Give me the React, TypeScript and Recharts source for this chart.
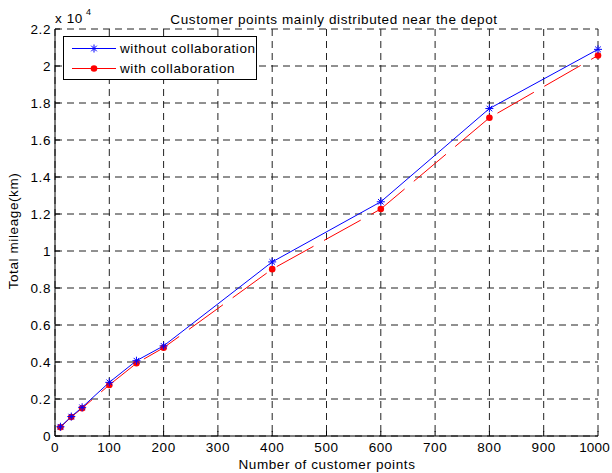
import React from 'react'
import { LineChart, Line, XAxis, YAxis, CartesianGrid } from 'recharts'

// number of customer points
const customerPoints = [10, 30, 50, 100, 150, 200, 400, 600, 800, 1000]
// total mileage, in units of 10^4 km
const withoutCollab = [0.05, 0.105, 0.155, 0.29, 0.407, 0.487, 0.941, 1.266, 1.77, 2.09]
const withCollab = [0.047, 0.103, 0.15, 0.276, 0.393, 0.477, 0.902, 1.227, 1.72, 2.057]

const xTicks = [0, 100, 200, 300, 400, 500, 600, 700, 800, 900, 1000]
const yTicks = [0, 0.2, 0.4, 0.6, 0.8, 1, 1.2, 1.4, 1.6, 1.8, 2, 2.2]

const data = customerPoints.map((n, i) => ({
  n,
  without: withoutCollab[i],
  with: withCollab[i],
}))

const FONT = 'Liberation Sans, Arial, sans-serif'
const FS = 13.5
const LS = 0.6

const fmtY = (v: number) => String(Math.round(v * 10) / 10)

const BottomTick = (props: any) => {
  const { x, y, payload } = props
  // last label would run off the right edge, nudge it in
  const last = payload.value === xTicks[xTicks.length - 1]
  return (
    <g>
      <line x1={x} y1={y} x2={x} y2={y - 5} stroke="#000" />
      <text
        x={last ? x + 12 : x}
        y={y + 16}
        textAnchor={last ? 'end' : 'middle'}
        fontSize={FS}
        letterSpacing={last ? 0.2 : LS}
        fontFamily={FONT}
        fill="#000"
      >
        {payload.value}
      </text>
    </g>
  )
}

const TopTick = (props: any) => {
  const { x, y } = props
  return <line x1={x} y1={y} x2={x} y2={y + 5} stroke="#000" />
}

const LeftTick = (props: any) => {
  const { x, y, payload } = props
  return (
    <g>
      <line x1={x} y1={y} x2={x + 5} y2={y} stroke="#000" />
      <text x={x - 4} y={y + 5} textAnchor="end" fontSize={FS} letterSpacing={LS} fontFamily={FONT} fill="#000">
        {fmtY(payload.value)}
      </text>
    </g>
  )
}

const RightTick = (props: any) => {
  const { x, y } = props
  return <line x1={x} y1={y} x2={x - 5} y2={y} stroke="#000" />
}

const StarDot = (props: any) => {
  const { cx, cy } = props
  if (cx == null || cy == null) return null
  const r = 4
  const d = 2.8
  return (
    <g stroke="#0000ff" strokeWidth={1}>
      <line x1={cx - r} y1={cy} x2={cx + r} y2={cy} />
      <line x1={cx} y1={cy - r} x2={cx} y2={cy + r} />
      <line x1={cx - d} y1={cy - d} x2={cx + d} y2={cy + d} />
      <line x1={cx - d} y1={cy + d} x2={cx + d} y2={cy - d} />
    </g>
  )
}

const RedDot = (props: any) => {
  const { cx, cy } = props
  if (cx == null || cy == null) return null
  return <circle cx={cx} cy={cy} r={3.3} fill="#ff0000" stroke="none" />
}

const LegendBox = () => (
  <g transform="translate(63 36)">
    <rect x={0.5} y={0.5} width={193} height={43} fill="#fff" stroke="#000" />
    <line x1={9} y1={12.5} x2={53} y2={12.5} stroke="#0000ff" />
    <StarDot cx={31} cy={12.5} />
    <text x={57} y={17} fontSize={FS} letterSpacing={LS} fontFamily={FONT} fill="#000">without collaboration</text>
    <line x1={9} y1={32.5} x2={53} y2={32.5} stroke="#ff0000" />
    <RedDot cx={31} cy={32.5} />
    <text x={57} y={37} fontSize={FS} letterSpacing={LS} fontFamily={FONT} fill="#000">with collaboration</text>
  </g>
)

export default function App() {
  return (
    <div style={{ position: 'absolute', left: 0, top: 0, width: 612, height: 473, background: '#fff' }}>
      <LineChart
        width={612}
        height={473}
        data={data}
        margin={{ top: 29, right: 14, bottom: 0, left: 0 }}
      >
        <CartesianGrid stroke="#222" strokeDasharray="7 5" />
        <XAxis
          dataKey="n"
          type="number"
          domain={[0, 1000]}
          ticks={xTicks}
          height={37}
          tickSize={0}
          tickMargin={0}
          tick={<BottomTick />}
          stroke="#000"
          interval={0}
        />
        <XAxis
          xAxisId="top"
          orientation="top"
          type="number"
          domain={[0, 1000]}
          ticks={xTicks}
          height={0}
          tickSize={0}
          tickMargin={0}
          tick={<TopTick />}
          stroke="#000"
          interval={0}
        />
        <YAxis
          type="number"
          domain={[0, 2.2]}
          ticks={yTicks}
          width={55}
          tickSize={0}
          tickMargin={0}
          tick={<LeftTick />}
          stroke="#000"
          interval={0}
        />
        <YAxis
          yAxisId="right"
          orientation="right"
          type="number"
          domain={[0, 2.2]}
          ticks={yTicks}
          width={0}
          tickSize={0}
          tickMargin={0}
          tick={<RightTick />}
          stroke="#000"
          interval={0}
        />
        <Line
          dataKey="with"
          stroke="#ff0000"
          strokeWidth={1}
          strokeDasharray="42 12"
          dot={<RedDot />}
          activeDot={false}
          isAnimationActive={false}
          type="linear"
        />
        <Line
          dataKey="without"
          stroke="#0000ff"
          strokeWidth={1}
          dot={<StarDot />}
          activeDot={false}
          isAnimationActive={false}
          type="linear"
        />
      </LineChart>
      <svg
        width={612}
        height={473}
        style={{ position: 'absolute', left: 0, top: 0, pointerEvents: 'none' }}
      >
        <LegendBox />
        <text x={55} y={23} fontSize={FS} letterSpacing={LS} fontFamily={FONT} fill="#000">x 10</text>
        <text x={86} y={15} fontSize={9} fontFamily={FONT} fill="#000">4</text>
        <text x={334} y={24} textAnchor="middle" fontSize={FS} letterSpacing={LS} fontFamily={FONT} fill="#000">
          Customer points mainly distributed near the depot
        </text>
        <text x={327} y={469} textAnchor="middle" fontSize={FS} letterSpacing={LS} fontFamily={FONT} fill="#000">
          Number of customer points
        </text>
        <text
          x={18}
          y={231}
          textAnchor="middle"
          fontSize={FS}
          letterSpacing={LS}
          fontFamily={FONT}
          fill="#000"
          transform="rotate(-90 18 231)"
        >
          Total mileage(km)
        </text>
      </svg>
    </div>
  )
}
